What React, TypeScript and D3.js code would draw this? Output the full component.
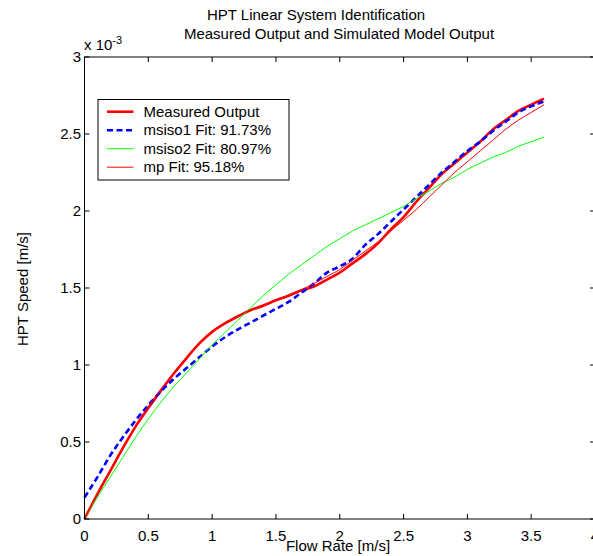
import * as d3 from "d3";

const FONT = "Arial, 'Liberation Sans', Helvetica, sans-serif";

// flow rate [m/s]
const flow = [
  0, 0.1, 0.2, 0.3, 0.4, 0.5, 0.6, 0.7, 0.8, 0.9, 1.0, 1.1, 1.2, 1.3, 1.4, 1.5, 1.6, 1.7, 1.8,
  1.9, 2.0, 2.1, 2.2, 2.3, 2.4, 2.5, 2.6, 2.7, 2.8, 2.9, 3.0, 3.1, 3.2, 3.3, 3.4, 3.5, 3.6,
];

// HPT speed, x 10^-3 m/s
const measured = [
  0, 0.16, 0.31, 0.46, 0.6, 0.72, 0.835, 0.945, 1.045, 1.14, 1.215, 1.27, 1.315, 1.355, 1.385, 1.42,
  1.45, 1.485, 1.51, 1.555, 1.6, 1.66, 1.72, 1.79, 1.88, 1.96, 2.06, 2.15, 2.24, 2.31, 2.38, 2.45,
  2.53, 2.59, 2.65, 2.69, 2.73,
];
const msiso1 = [
  0.14, 0.27, 0.41, 0.53, 0.64, 0.74, 0.83, 0.91, 0.98, 1.05, 1.12, 1.18, 1.23, 1.275, 1.32, 1.365,
  1.41, 1.47, 1.53, 1.6, 1.64, 1.69, 1.78, 1.85, 1.93, 2.01, 2.09, 2.17, 2.25, 2.32, 2.39, 2.45,
  2.52, 2.58, 2.64, 2.68, 2.71,
];
const msiso2 = [
  0, 0.14, 0.27, 0.4, 0.53, 0.65, 0.76, 0.86, 0.95, 1.04, 1.13, 1.21, 1.29, 1.37, 1.45, 1.52, 1.59,
  1.65, 1.71, 1.77, 1.82, 1.87, 1.91, 1.95, 1.99, 2.03, 2.08, 2.13, 2.18, 2.22, 2.27, 2.31, 2.35,
  2.38, 2.42, 2.45, 2.48,
];
const mp = [
  0, 0.16, 0.31, 0.46, 0.6, 0.73, 0.845, 0.95, 1.05, 1.14, 1.21, 1.27, 1.32, 1.36, 1.39, 1.42, 1.455,
  1.49, 1.53, 1.575, 1.62, 1.68, 1.74, 1.8, 1.87, 1.94, 2.01, 2.09, 2.17, 2.25, 2.32, 2.39, 2.46,
  2.53, 2.59, 2.64, 2.69,
];

const xTicks = [0, 0.5, 1, 1.5, 2, 2.5, 3, 3.5, 4];
const yTicks = [0, 0.5, 1, 1.5, 2, 2.5, 3];

const SERIES = [
  { name: "Measured Output", values: measured, color: "#ff0000", width: 2.6, dash: null },
  { name: "msiso1 Fit: 91.73%", values: msiso1, color: "#0000ff", width: 2.6, dash: "6,3.5" },
  { name: "msiso2 Fit: 80.97%", values: msiso2, color: "#00ff00", width: 1, dash: null },
  { name: "mp Fit: 95.18%", values: mp, color: "#ff0000", width: 1, dash: null },
];

export default function App() {
  const W = 593;
  const H = 556;
  const mg = { l: 84.5, r: 595, t: 57, b: 519 };

  const x = d3.scaleLinear().domain([0, 4]).range([mg.l, mg.r]);
  const y = d3.scaleLinear().domain([0, 3]).range([mg.b, mg.t]);

  const line = d3
    .line<number>()
    .x((_d, i) => x(flow[i]))
    .y((d) => y(d))
    .curve(d3.curveMonotoneX);

  const tick = 5;
  const lg = { x: 98, y: 99.5, w: 191, h: 80.5, row: 18.5 };

  return (
    <svg
      width={W}
      height={H}
      style={{ position: "absolute", left: 0, top: 0, background: "#fff" }}
      fontFamily={FONT}
    >
      <rect width={W} height={H} fill="#fff" />

      {/* titel */}
      <text x={316} y={20} fontSize={15} textAnchor="middle">
        HPT Linear System Identification
      </text>
      <text x={339} y={39} fontSize={15} textAnchor="middle">
        Measured Output and Simulated Model Output
      </text>

      {/* data */}
      <g>
        {SERIES.map((s) => (
          <path
            key={s.name}
            d={line(s.values) || ""}
            fill="none"
            stroke={s.color}
            strokeWidth={s.width}
            strokeDasharray={s.dash || undefined}
          />
        ))}
      </g>

      {/* axes box */}
      <rect
        x={mg.l}
        y={mg.t}
        width={mg.r - mg.l}
        height={mg.b - mg.t}
        fill="none"
        stroke="#000"
        strokeWidth={1}
      />

      {xTicks.map((t) => (
        <g key={"x" + t}>
          <line x1={x(t)} x2={x(t)} y1={mg.b} y2={mg.b - tick} stroke="#000" />
          <line x1={x(t)} x2={x(t)} y1={mg.t} y2={mg.t + tick} stroke="#000" />
          <text x={x(t)} y={mg.b + 22} fontSize={15} textAnchor="middle">
            {t}
          </text>
        </g>
      ))}
      {yTicks.map((t) => (
        <g key={"y" + t}>
          <line x1={mg.l} x2={mg.l + tick} y1={y(t)} y2={y(t)} stroke="#000" />
          <line x1={mg.r} x2={mg.r - tick} y1={y(t)} y2={y(t)} stroke="#000" />
          <text x={81} y={y(t) + 5} fontSize={15} textAnchor="end">
            {t}
          </text>
        </g>
      ))}

      {/* exponent */}
      <text x={84} y={50} fontSize={15}>
        x 10
        <tspan dy={-6} fontSize={11}>
          -3
        </tspan>
      </text>

      {/* axeltitlar */}
      <text x={338} y={551} fontSize={15} textAnchor="middle">
        Flow Rate [m/s]
      </text>
      <text
        transform={`translate(28,289) rotate(-90)`}
        fontSize={15}
        textAnchor="middle"
      >
        HPT Speed [m/s]
      </text>

      {/* legend */}
      <rect x={lg.x} y={lg.y} width={lg.w} height={lg.h} fill="#fff" stroke="#000" />
      {SERIES.map((s, i) => {
        const ly = lg.y + 12.2 + i * lg.row;
        return (
          <g key={"lg" + s.name}>
            <line
              x1={lg.x + 9}
              x2={lg.x + 35.5}
              y1={ly}
              y2={ly}
              stroke={s.color}
              strokeWidth={s.width}
              strokeDasharray={s.dash || undefined}
            />
            <text x={lg.x + 45.5} y={ly + 5} fontSize={15}>
              {s.name}
            </text>
          </g>
        );
      })}
    </svg>
  );
}
